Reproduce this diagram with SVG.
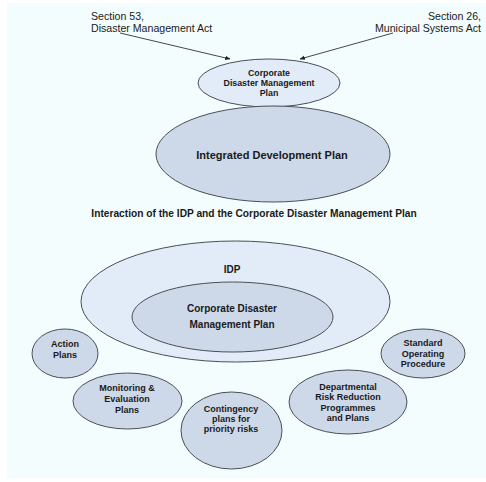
<svg xmlns="http://www.w3.org/2000/svg" width="486" height="482" viewBox="0 0 486 482">
<style>
.n{stroke:#4a4f57;stroke-width:1}
.l{fill:#e2ebf8}
.d{fill:#cdd8e9}
text{font-family:"Liberation Sans",Arial,sans-serif;fill:#1a1a1a;text-anchor:middle}
.b{font-weight:bold}
.r{font-size:10.6px}
.s{font-size:9px}
.c{stroke:#333;stroke-width:0.9;fill:none}
</style>
<defs>
<marker id="ah" viewBox="0 0 10 10" refX="9" refY="5" markerWidth="6" markerHeight="6" orient="auto">
<path d="M0,1 L10,5 L0,9 z" fill="#222"/>
</marker>
</defs>
<rect x="7" y="3" width="479" height="475" fill="#f3fdfd"/>
<g id="connectors">
<line class="c" x1="120" y1="33" x2="230" y2="59" marker-end="url(#ah)"/>
<line class="c" x1="393" y1="33" x2="300" y2="59" marker-end="url(#ah)"/>
</g>
<g id="section53">
<text class="r" x="91" y="20" style="text-anchor:start">Section 53,</text>
<text class="r" x="91" y="32" style="text-anchor:start">Disaster Management Act</text>
</g>
<g id="section26">
<text class="r" x="481" y="20" style="text-anchor:end">Section 26,</text>
<text class="r" x="481" y="32" style="text-anchor:end">Municipal Systems Act</text>
</g>
<g id="cdmp-top">
<ellipse class="n l" cx="269" cy="83" rx="71" ry="24"/>
<text class="b" x="269" y="76" font-size="8.8">Corporate</text>
<text class="b" x="269" y="86" font-size="8.8">Disaster Management</text>
<text class="b" x="269" y="96" font-size="8.8">Plan</text>
</g>
<g id="idp-top">
<ellipse class="n d" cx="273" cy="154" rx="117" ry="48"/>
<text class="b" x="272" y="159" font-size="11">Integrated Development Plan</text>
</g>
<g id="title">
<text class="b" x="254" y="217" font-size="10.2">Interaction of the IDP and the Corporate Disaster Management Plan</text>
</g>
<g id="idp-outer">
<ellipse class="n l" cx="235.5" cy="301.5" rx="154.5" ry="60.5"/>
<text class="b" x="232" y="273" font-size="10">IDP</text>
</g>
<g id="cdmp-inner">
<ellipse class="n d" cx="232.5" cy="317" rx="100.5" ry="35"/>
<text class="b" x="232" y="312" font-size="10">Corporate Disaster</text>
<text class="b" x="232" y="328" font-size="10">Management Plan</text>
</g>
<g id="action">
<ellipse class="n d" cx="65" cy="353.5" rx="33" ry="24.5"/>
<text class="b s" x="65" y="347">Action</text>
<text class="b s" x="65" y="358">Plans</text>
</g>
<g id="monitoring">
<ellipse class="n d" cx="127.5" cy="401" rx="54.5" ry="28"/>
<text class="b s" x="127" y="391">Monitoring &amp;</text>
<text class="b s" x="127" y="402">Evaluation</text>
<text class="b s" x="127" y="413">Plans</text>
</g>
<g id="contingency">
<ellipse class="n d" cx="231.5" cy="430.5" rx="50.5" ry="38.5"/>
<text class="b s" x="231" y="412">Contingency</text>
<text class="b s" x="231" y="422">plans for</text>
<text class="b s" x="231" y="432">priority risks</text>
</g>
<g id="departmental">
<ellipse class="n d" cx="348" cy="402" rx="59" ry="32"/>
<text class="b s" x="348" y="390">Departmental</text>
<text class="b s" x="348" y="400">Risk Reduction</text>
<text class="b s" x="348" y="411">Programmes</text>
<text class="b s" x="348" y="421">and Plans</text>
</g>
<g id="sop">
<ellipse class="n d" cx="423" cy="353.5" rx="42" ry="24.5"/>
<text class="b s" x="423" y="346">Standard</text>
<text class="b s" x="423" y="357">Operating</text>
<text class="b s" x="423" y="367">Procedure</text>
</g>
</svg>
